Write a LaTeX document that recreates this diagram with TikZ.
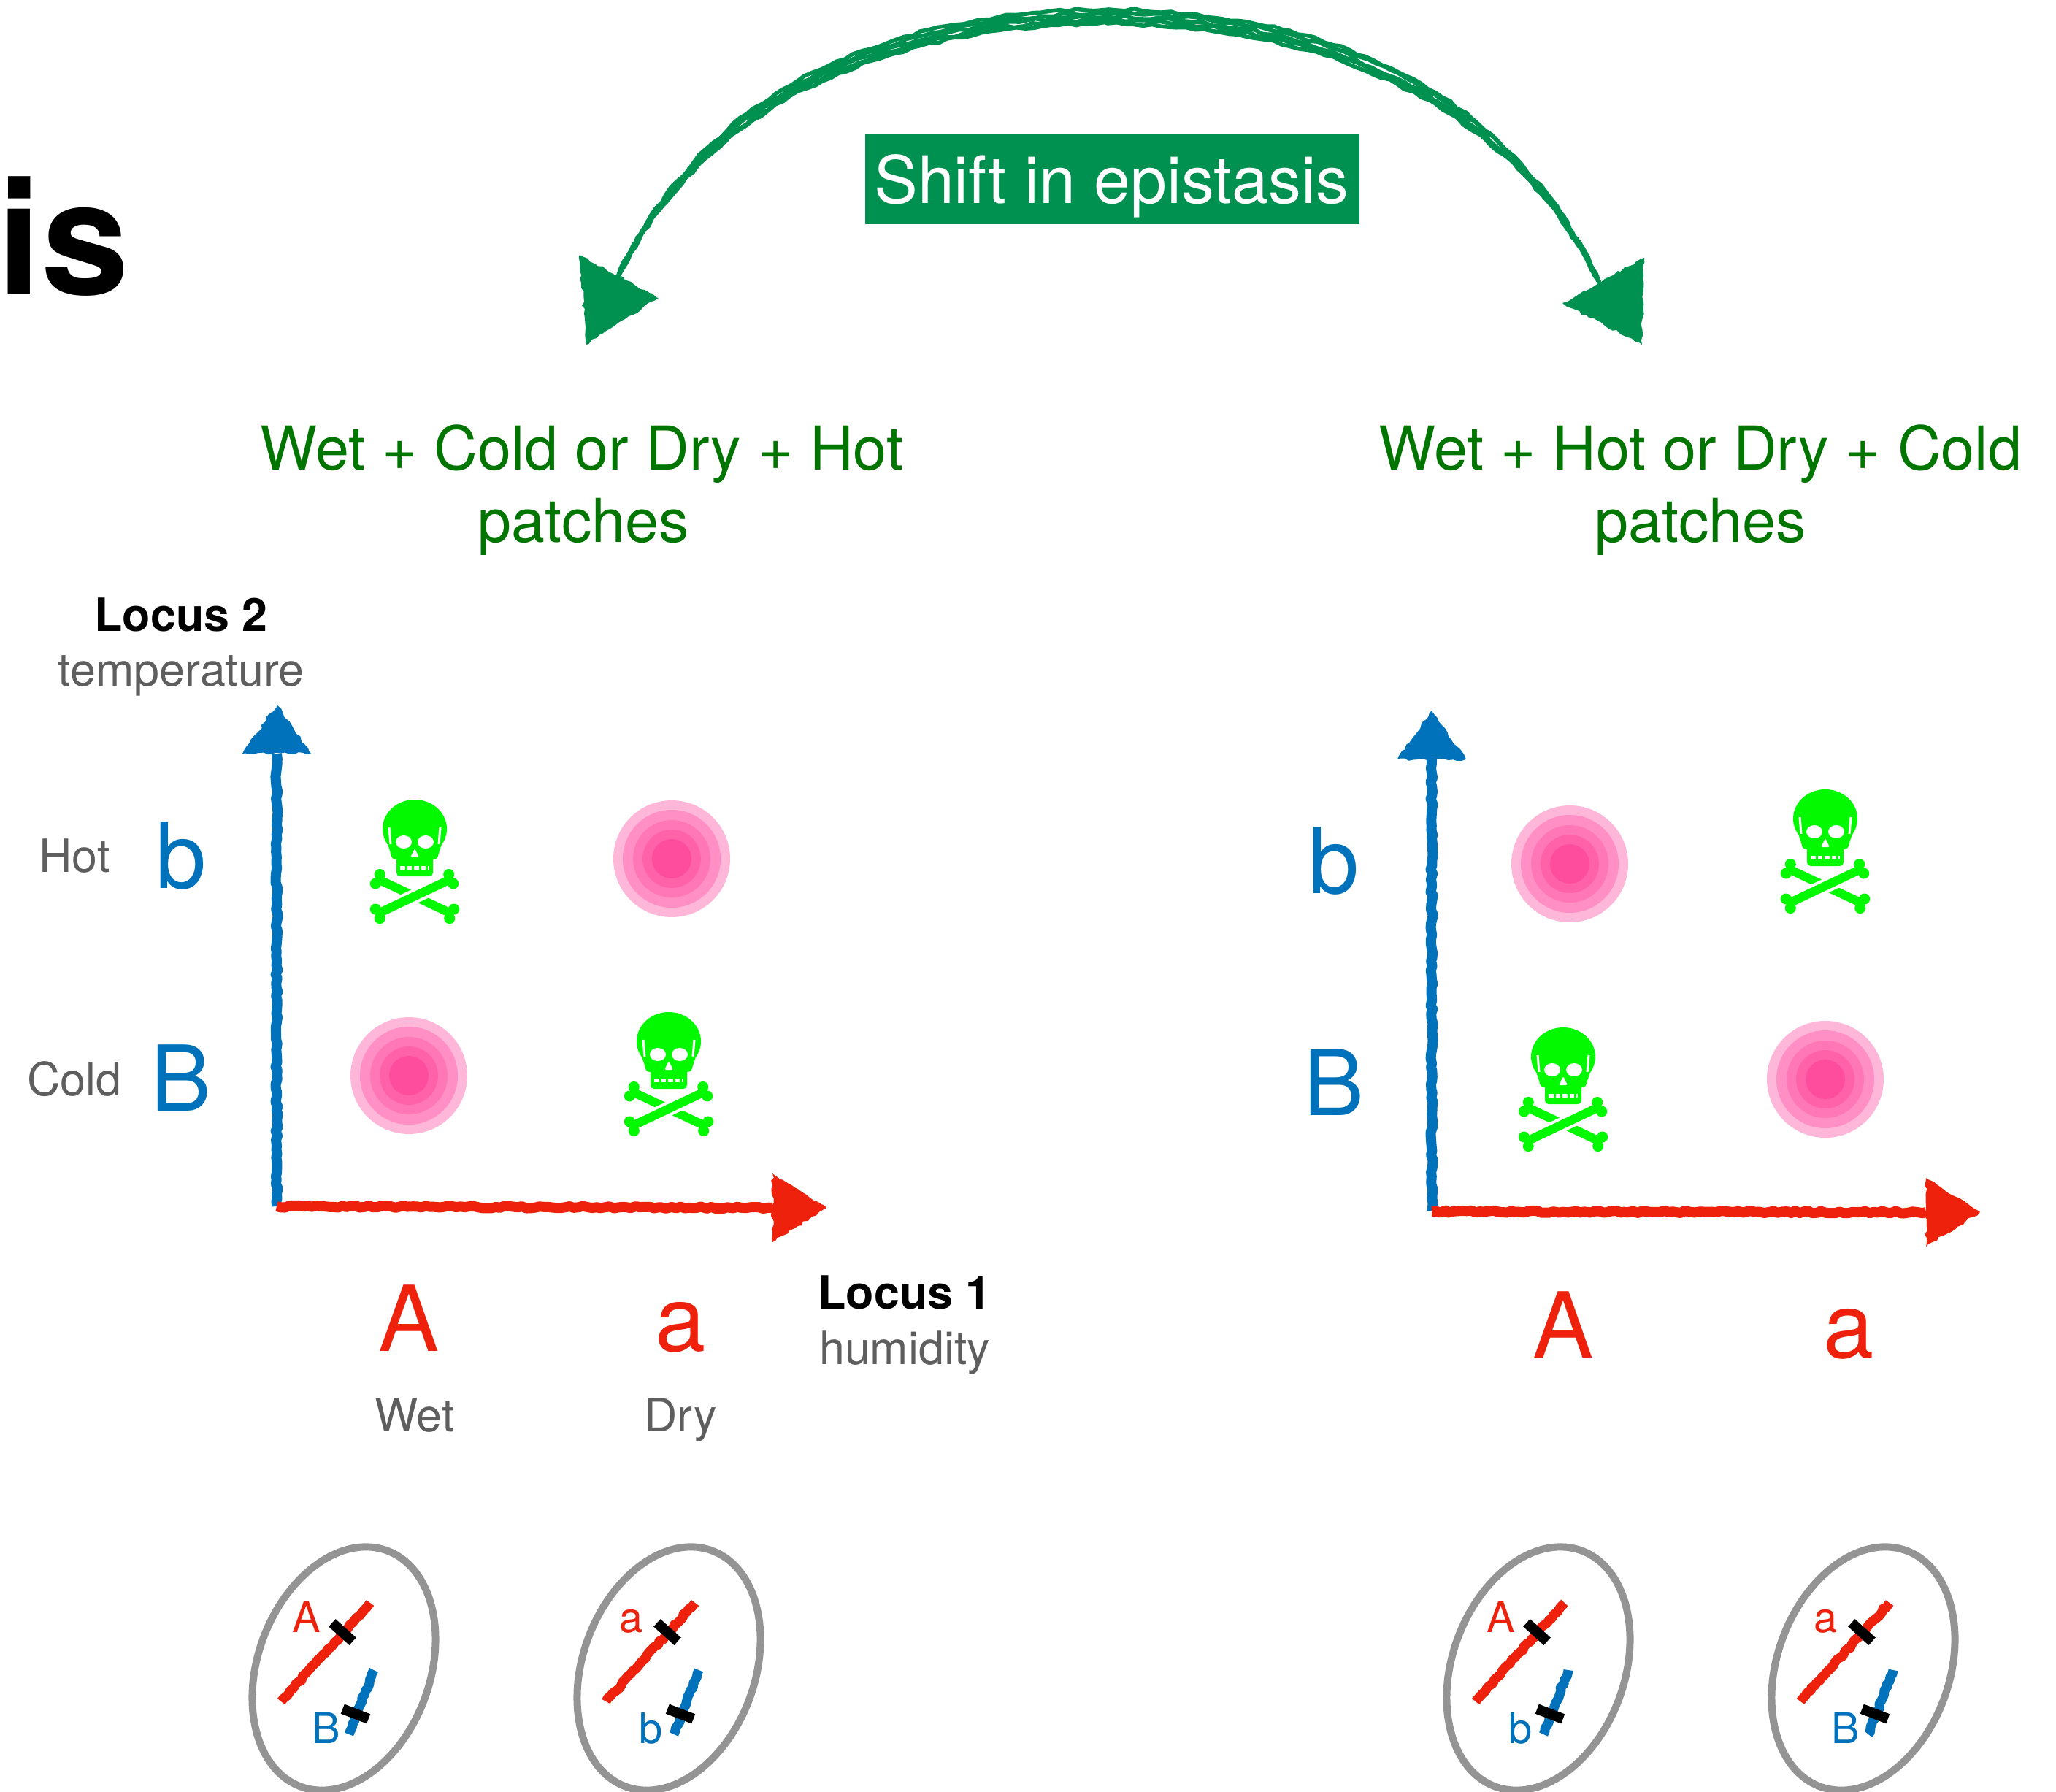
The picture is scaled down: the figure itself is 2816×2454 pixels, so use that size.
\documentclass[tikz,border=0pt]{standalone}
\usepackage{fontspec}
\setmainfont{TeX Gyre Heros}
\usetikzlibrary{calc,decorations.pathmorphing}

\definecolor{axisblue}{RGB}{0,114,187}
\definecolor{axisred}{RGB}{238,34,12}
\definecolor{boxgreen}{RGB}{0,145,81}
\definecolor{headgreen}{RGB}{0,118,0}
\definecolor{skullgreen}{RGB}{2,249,0}
\definecolor{textgray}{RGB}{94,94,94}
\definecolor{cellgray}{RGB}{148,148,148}
\definecolor{pinkA}{RGB}{255,183,217}
\definecolor{pinkB}{RGB}{255,143,196}
\definecolor{pinkC}{RGB}{255,119,182}
\definecolor{pinkD}{RGB}{255,98,169}
\definecolor{pinkE}{RGB}{255,77,158}

\tikzset{
  lbl/.style={inner sep=0pt, anchor=base},
  head/.style={lbl, text=headgreen, font=\fontsize{83}{83}\selectfont},
  axisname/.style={lbl, font=\fontsize{63}{63}\selectfont\bfseries},
  small/.style={lbl, text=textgray, font=\fontsize{63}{63}\selectfont},
  allele/.style={lbl, font=\fontsize{125}{125}\selectfont},
  cellallele/.style={lbl, font=\fontsize{58}{58}\selectfont},
  chalk/.style={line width=14bp, line join=round, decorate,
    decoration={random steps, segment length=6bp, amplitude=1.6bp}},
  chalktip/.style={line join=round, decorate,
    decoration={random steps, segment length=6bp, amplitude=2bp}},
  chromo/.style={line width=13bp, line join=round, decorate,
    decoration={random steps, segment length=5bp, amplitude=1.5bp}},
  band/.style={line width=14bp, black},
  sketch/.style={boxgreen, line width=5.5bp, line cap=round, decorate,
    decoration={random steps, segment length=12bp, amplitude=2bp}},
  % concentric pink target
  target/.pic={
    \fill[pinkA] (0,0) circle [radius=80bp];
    \fill[pinkB] (0,0) circle [radius=67bp];
    \fill[pinkC] (0,0) circle [radius=53bp];
    \fill[pinkD] (0,0) circle [radius=40bp];
    \fill[pinkE] (0,0) circle [radius=27bp];
  },
  % skull and crossbones
  skull/.pic={
    \fill[skullgreen] (0,-45) ellipse [x radius=44bp, y radius=40bp];
    \fill[skullgreen] (-44,-45) -- (-33,-12) .. controls (-31,-4) .. (-25,-3)
      -- (25,-3) .. controls (31,-4) .. (33,-12) -- (44,-45) -- cycle;
    \fill[skullgreen, rounded corners=5bp] (-25,-8) rectangle (25,20);
    \fill[white] (-15,-27) ellipse [x radius=11bp, y radius=9bp];
    \fill[white] (15,-27) ellipse [x radius=11bp, y radius=9bp];
    \fill[white, rounded corners=2bp] (0,-18) -- (-6,-6) -- (6,-6) -- cycle;
    \draw[white, line width=5bp, dash pattern=on 6.5bp off 3bp] (-20,8) -- (20,8);
    \draw[white, line width=3bp] (-35,-47) -- (-33,-24);
    \draw[white, line width=3bp] (35,-47) -- (33,-24);
    \draw[skullgreen, line width=12bp] (-48,25) -- (48,70);
    \fill[skullgreen] (-53.7,30) circle [radius=7.5bp] (-47.7,17.4) circle [radius=7.5bp]
      (47.7,77.6) circle [radius=7.5bp] (53.7,65) circle [radius=7.5bp];
    \draw[white, line width=20bp] (-18,55.8) -- (18,38.8);
    \draw[skullgreen, line width=12bp] (47,25) -- (-48,70);
    \fill[skullgreen] (46.7,17.4) circle [radius=7.5bp] (52.7,30) circle [radius=7.5bp]
      (-53.7,65) circle [radius=7.5bp] (-47.7,77.6) circle [radius=7.5bp];
  },
}

% a cell with two chromosomes: name, x, y, upper allele, lower allele
\newcommand\drawcell[5]{%
  \begin{scope}[shift={(#2,#3)}]
    \draw[cellgray, line width=10bp, rotate=-20] (0,0) ellipse [x radius=118bp, y radius=172bp];
    \draw[chromo, axisred] (-86,45) -- (36,-90);
    \draw[band] (-16.1,-62.7) -- (12.1,-37.3);
    \draw[chromo, axisblue] (41,2) -- (7,90);
    \draw[band] (-1.7,55.2) -- (33.7,68.8);
    \node[cellallele, text=axisred] (#1up) at (-51,-50) {#4};
    \node[cellallele, text=axisblue] (#1low) at (-24,102) {#5};
  \end{scope}}

\begin{document}
\begin{tikzpicture}[x=1bp, y=-1bp]
\useasboundingbox (0,0) rectangle (2816,2454);
\fill[white] (0,0) rectangle (2816,2454);

% title fragment
\node[lbl, anchor=base west, font=\fontsize{218}{218}\selectfont\bfseries] (title) at (-4,403) {is};

% shift label
\node[fill=boxgreen, minimum width=677bp, minimum height=123bp, inner sep=0pt] (shiftbox) at (1523.5,245.5) {};
\node[lbl, text=white, font=\fontsize{90}{90}\selectfont] (shift) at (1522,278) {Shift in epistasis};

% double-headed sketched arc
\coordinate (arcL) at (846,380);
\coordinate (arcR) at (2190,386);
\foreach \dx/\dy in {0/-9, 2/-4, -2/1, 1/6, -1/10} {
  \begin{scope}[shift={(\dx,\dy)}]
    \draw[sketch] (arcL) .. controls (960,140) and (1200,25) .. (1518,22)
      .. controls (1836,25) and (2076,145) .. (arcR);
  \end{scope}
}
\fill[boxgreen, chalktip] (794,349) -- (902,408) -- (803,472) -- cycle;
\fill[boxgreen, chalktip] (2252,353) -- (2140,415) -- (2249,472) -- cycle;

% headings
\node[head] (hL1) at (797,643) {Wet + Cold or Dry + Hot};
\node[head] (hL2) at (799,742) {patches};
\node[head] (hR1) at (2329,643) {Wet + Hot or Dry + Cold};
\node[head] (hR2) at (2329,742) {patches};

% ---------- left panel ----------
\node[axisname] (loc2) at (248,864) {Locus 2};
\node[small] (temp) at (248,939) {temperature};
\node[small] (hot) at (102,1194) {Hot};
\node[small] (cold) at (102,1500) {Cold};
\node[allele, text=axisblue] (lb) at (248,1216) {b};
\node[allele, text=axisblue] (lB) at (248,1521) {B};

\coordinate (oL) at (379,1652);
\coordinate (yL) at (379,1032);
\coordinate (yLt) at (379,965);
\coordinate (xL) at (1058,1654);
\coordinate (xLt) at (1132,1654);
\draw[chalk, axisblue] (oL) -- (yL);
\draw[chalk, axisred] (oL) -- (xL);
\fill[chalktip, axisblue] ($(yL)+(-47,0)$) -- (yLt) -- ($(yL)+(47,0)$) -- cycle;
\fill[chalktip, axisred] ($(xL)+(0,-47)$) -- (xLt) -- ($(xL)+(0,47)$) -- cycle;

\pic (skL1) at (568,1180) {skull};
\pic (tgL1) at (920,1176) {target};
\pic (tgL2) at (560,1473) {target};
\pic (skL2) at (916,1471) {skull};

\node[allele, text=axisred] (lA) at (560,1850) {A};
\node[allele, text=axisred] (la) at (932,1850) {a};
\node[small] (wet) at (568,1960) {Wet};
\node[small] (dry) at (932,1960) {Dry};
\node[axisname] (loc1) at (1239,1792) {Locus 1};
\node[small] (hum) at (1239,1868) {humidity};

% ---------- right panel ----------
\node[allele, text=axisblue] (rb) at (1827,1223) {b};
\node[allele, text=axisblue] (rB) at (1827,1527) {B};

\coordinate (oR) at (1961,1659);
\coordinate (yR) at (1961,1040);
\coordinate (yRt) at (1961,973);
\coordinate (xR) at (2638,1660);
\coordinate (xRt) at (2712,1660);
\draw[chalk, axisblue] (oR) -- (yR);
\draw[chalk, axisred] (oR) -- (xR);
\fill[chalktip, axisblue] ($(yR)+(-47,0)$) -- (yRt) -- ($(yR)+(47,0)$) -- cycle;
\fill[chalktip, axisred] ($(xR)+(0,-47)$) -- (xRt) -- ($(xR)+(0,47)$) -- cycle;

\pic (tgR1) at (2150,1183) {target};
\pic (skR1) at (2500,1166) {skull};
\pic (skR2) at (2141,1492) {skull};
\pic (tgR2) at (2500,1478) {target};

\node[allele, text=axisred] (rA) at (2141,1859) {A};
\node[allele, text=axisred] (ra) at (2532,1859) {a};

% ---------- cells ----------
\drawcell{c1}{471}{2285}{A}{B}
\drawcell{c2}{916}{2285}{a}{b}
\drawcell{c3}{2107}{2285}{A}{b}
\drawcell{c4}{2552}{2285}{a}{B}
\end{tikzpicture}
\end{document}
